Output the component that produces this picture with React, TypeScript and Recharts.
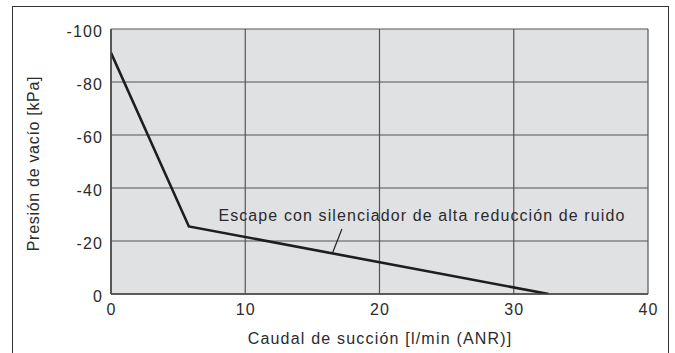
import React from 'react';
import { LineChart, Line, XAxis, YAxis, CartesianGrid, ReferenceLine, ReferenceDot, Label } from 'recharts';

const flowValues = [0, 5.8, 32.6];
const pressureValues = [-91, -25.5, 0];
const xTicks = [0, 10, 20, 30, 40];
const yTicks = [-100, -80, -60, -40, -20, 0];
const seriesLabel = 'Escape con silenciador de alta reducción de ruido';
const labelAnchor = { x: 8.0, y: -29.8 };
const leader = [
  { x: 17.2, y: -24.5 },
  { x: 16.5, y: -15.5 },
];
const xTitle = 'Caudal de succión [l/min (ANR)]';
const yTitle = 'Presión de vacío [kPa]';

const data = flowValues.map((x, i) => ({ x, y: pressureValues[i] }));

const FONT = 'Liberation Sans, Arial, Helvetica, sans-serif';
const TEXT = '#2b2b2b';
const LS = 1.1;

export default function App() {
  return (
    <div style={{ position: 'absolute', left: 0, top: 0, width: 675, height: 353, background: '#fff', overflow: 'hidden' }}>
      <div
        style={{
          position: 'absolute',
          left: 12,
          top: 6,
          width: 657,
          height: 400,
          border: '1.5px solid #333',
          boxSizing: 'border-box',
        }}
      />
      <div style={{ position: 'absolute', left: 0, top: 0 }}>
        <LineChart
          width={675}
          height={353}
          data={data}
          margin={{ top: 29, right: 27, bottom: 29, left: 51 }}
          style={{ fontFamily: FONT }}
        >
          <CartesianGrid stroke="#555" strokeWidth={1.2} fill="#e0e1e3" fillOpacity={1} />
          <XAxis
            dataKey="x"
            type="number"
            domain={[0, 40]}
            ticks={xTicks}
            tickLine={false}
            tickSize={0}
            tickMargin={10}
            height={30}
            axisLine={{ stroke: '#444', strokeWidth: 1.5 }}
            tick={{ fill: TEXT, fontSize: 16, fontFamily: FONT, letterSpacing: LS, dx: LS / 2 }}
            allowDataOverflow
          >
            <Label
              content={({ viewBox }: any) => (
                <text
                  x={viewBox.x + viewBox.width / 2 + LS / 2}
                  y={338}
                  textAnchor="middle"
                  dominantBaseline="central"
                  fill={TEXT}
                  fontSize={16}
                  fontFamily={FONT}
                  letterSpacing={1.2}
                >
                  {xTitle}
                </text>
              )}
            />
          </XAxis>
          <YAxis
            type="number"
            domain={[-100, 0]}
            ticks={yTicks}
            reversed
            width={60}
            tickLine={false}
            tickSize={0}
            tickMargin={8}
            axisLine={{ stroke: '#444', strokeWidth: 1.5 }}
            tick={{ fill: TEXT, fontSize: 16, fontFamily: FONT, dy: 2, letterSpacing: LS }}
            allowDataOverflow
          >
            <Label
              content={({ viewBox }: any) => {
                const cx = 33;
                const cy = viewBox.y + viewBox.height / 2 + 2;
                return (
                  <text
                    x={cx}
                    y={cy}
                    transform={`rotate(-90 ${cx} ${cy})`}
                    textAnchor="middle"
                    dominantBaseline="central"
                    fill={TEXT}
                    fontSize={16}
                    fontFamily={FONT}
                    letterSpacing={0.7}
                  >
                    {yTitle}
                  </text>
                );
              }}
            />
          </YAxis>
          <ReferenceLine
            segment={leader}
            stroke="#222"
            strokeWidth={1.2}
            ifOverflow="visible"
          />
          <ReferenceDot
            x={labelAnchor.x}
            y={labelAnchor.y}
            r={0}
            fill="none"
            stroke="none"
            ifOverflow="visible"
            label={{
              position: 'right',
              offset: 0,
              content: ({ viewBox }: any) => (
                <text
                  x={viewBox.x + viewBox.width}
                  y={viewBox.y + viewBox.height / 2}
                  textAnchor="start"
                  dominantBaseline="central"
                  fill={TEXT}
                  fontSize={16}
                  fontFamily={FONT}
                  letterSpacing={LS}
                >
                  {seriesLabel}
                </text>
              ),
            }}
          />
          <Line
            type="linear"
            dataKey="y"
            stroke="#1e1e1e"
            strokeWidth={2.6}
            dot={false}
            activeDot={false}
            isAnimationActive={false}
          />
        </LineChart>
      </div>
    </div>
  );
}
